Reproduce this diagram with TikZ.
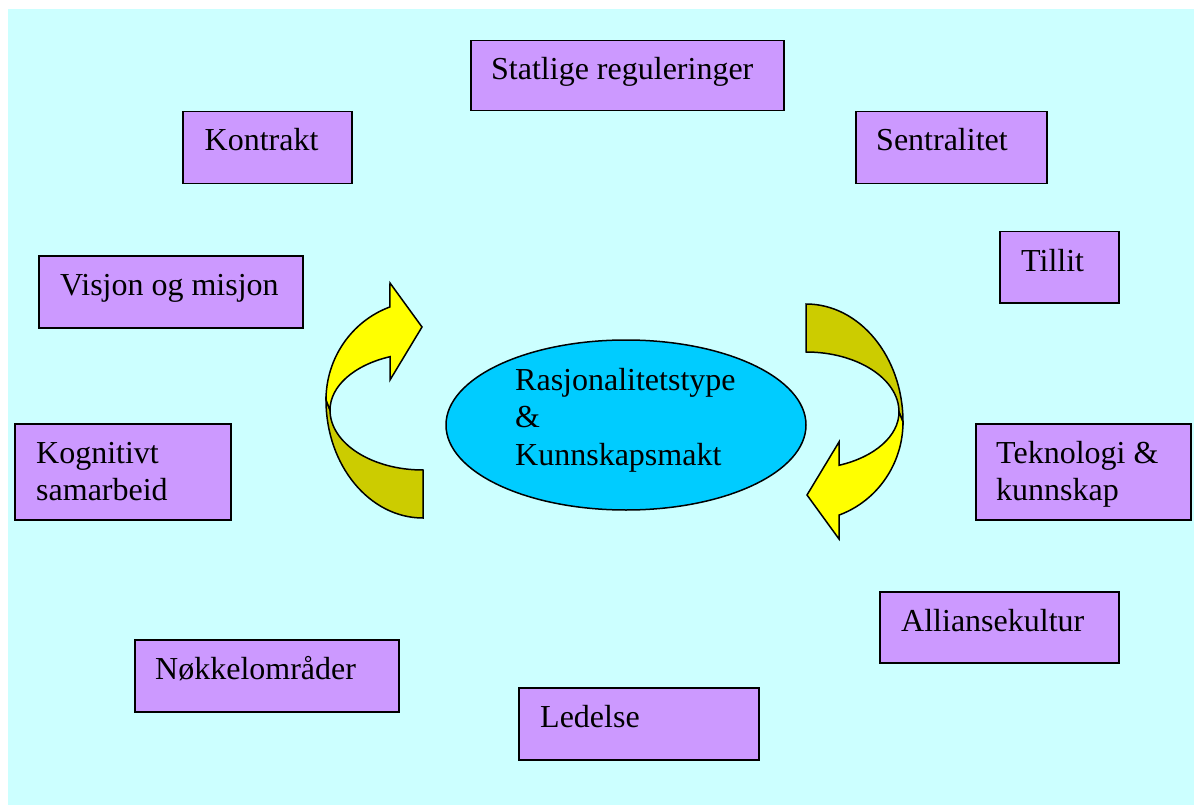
\documentclass[tikz,border=0pt]{standalone}
\usepackage{fontspec}
\setmainfont{Liberation Serif}
\usetikzlibrary{shapes.geometric,calc}
\definecolor{bgcyan}{HTML}{CCFFFF}
\definecolor{boxfill}{HTML}{CC99FF}
\definecolor{ellfill}{HTML}{00CCFF}
\definecolor{arrfront}{HTML}{FFFF00}
\definecolor{arrback}{HTML}{CCCC00}
\newcommand{\drawcurvedarrow}{%
  \path[arrowpart, fill=arrback] (326,400)
    arc[start angle=180, end angle=90, x radius=97, y radius=118]
    -- (423,470)
    arc[start angle=90, end angle=180, x radius=93, y radius=60]
    -- cycle;
  \path[arrowpart, fill=arrfront] (326,400)
    arc[start angle=180, end angle=250, x radius=97, y radius=99]
    -- (390,283) -- (422,327) -- (390,380) -- (390,356.7)
    arc[start angle=249.2, end angle=180, x radius=93, y radius=57]
    -- cycle;
}
\begin{document}
\begin{tikzpicture}[x=1pt,y=-1pt,
  box/.style={draw=black, line width=1.5pt, fill=boxfill, rectangle,
    anchor=north west, inner sep=0pt},
  lbl/.style={anchor=base west, inner sep=0pt, font=\fontsize{32}{37}\selectfont},
  arrowpart/.style={draw=black, line width=1.5pt}]
\useasboundingbox (0,0) rectangle (1194,805);
\fill[bgcyan] (8,9) rectangle (1194,805);

% boxes
\node[box, minimum width=313pt, minimum height=70pt] (statlige) at (470,40) {};
\node[box, minimum width=169pt, minimum height=72pt] (kontrakt) at (182,111) {};
\node[box, minimum width=191pt, minimum height=72pt] (sentral) at (855,111) {};
\node[box, minimum width=119pt, minimum height=71pt] (tillit) at (999,231) {};
\node[box, minimum width=264pt, minimum height=72pt] (visjon) at (38,255) {};
\node[box, minimum width=216pt, minimum height=96pt] (kogn) at (14,423) {};
\node[box, minimum width=215pt, minimum height=96pt] (tekn) at (975,423) {};
\node[box, minimum width=239pt, minimum height=71pt] (allianse) at (879,591) {};
\node[box, minimum width=264pt, minimum height=72pt] (nokkel) at (134,639) {};
\node[box, minimum width=240pt, minimum height=72pt] (ledelse) at (518,687) {};

% box texts
\node[lbl] (statlige-t) at ($(statlige.north west)+(21,40)$) {Statlige reguleringer};
\node[lbl] (kontrakt-t) at ($(kontrakt.north west)+(22.5,40)$) {Kontrakt};
\node[lbl] (sentral-t) at ($(sentral.north west)+(21,40)$) {Sentralitet};
\node[lbl] (tillit-t) at ($(tillit.north west)+(22,40)$) {Tillit};
\node[lbl] (visjon-t) at ($(visjon.north west)+(22,40)$) {Visjon og misjon};
\node[lbl] (kogn-t1) at ($(kogn.north west)+(22,40)$) {Kognitivt};
\node[lbl] (kogn-t2) at ($(kogn.north west)+(22,77)$) {samarbeid};
\node[lbl] (tekn-t1) at ($(tekn.north west)+(21,40)$) {Teknologi \&};
\node[lbl] (tekn-t2) at ($(tekn.north west)+(21,77)$) {kunnskap};
\node[lbl] (allianse-t) at ($(allianse.north west)+(22,40)$) {Alliansekultur};
\node[lbl] (nokkel-t) at ($(nokkel.north west)+(21,40)$) {Nøkkelområder};
\node[lbl] (ledelse-t) at ($(ledelse.north west)+(22,40)$) {Ledelse};

% central ellipse
\node[ellipse, draw=black, line width=1.5pt, fill=ellfill, inner sep=0pt,
  minimum width=360pt, minimum height=170pt] (ell) at (626,425) {};
\node[lbl] (ell-t1) at (515,390) {Rasjonalitetstype};
\node[lbl] (ell-t2) at (515,427) {\&};
\node[lbl] (ell-t3) at (515,465) {Kunnskapsmakt};

% curved arrows
\begin{scope}
  \drawcurvedarrow
\end{scope}
\begin{scope}[rotate around={180:(614.5,411)}]
  \drawcurvedarrow
\end{scope}
\end{tikzpicture}
\end{document}
